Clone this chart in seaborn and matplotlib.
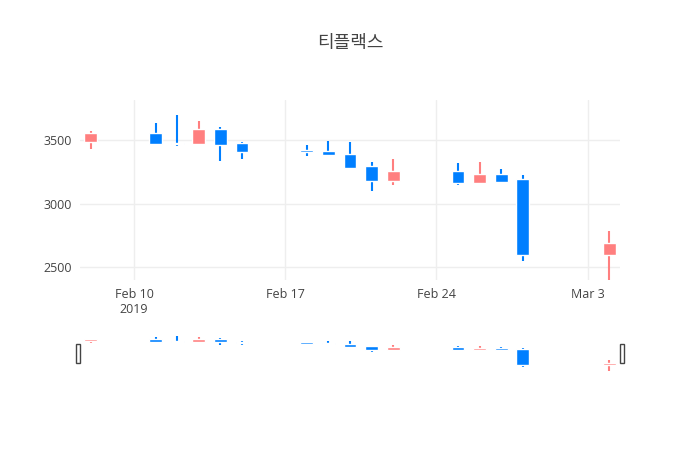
import pandas as pd
import numpy as np
import matplotlib
matplotlib.use('Agg')
import matplotlib.pyplot as plt
import matplotlib.dates as mdates
import seaborn as sns

dates = ['2019-02-08', '2019-02-11', '2019-02-12', '2019-02-13', '2019-02-14', '2019-02-15',
         '2019-02-18', '2019-02-19', '2019-02-20', '2019-02-21', '2019-02-22',
         '2019-02-25', '2019-02-26', '2019-02-27', '2019-02-28', '2019-03-04']
opens = [3480, 3555, 3475, 3465, 3585, 3475, 3420, 3415, 3390, 3295, 3180, 3255, 3160, 3230, 3190, 2595]
highs = [3565, 3630, 3690, 3650, 3600, 3480, 3455, 3490, 3480, 3325, 3345, 3315, 3325, 3270, 3225, 2785]
lows = [3425, 3460, 3450, 3465, 3330, 3345, 3370, 3370, 3270, 3100, 3145, 3145, 3160, 3160, 2550, 2400]
closes = [3555, 3465, 3465, 3585, 3455, 3405, 3400, 3380, 3275, 3180, 3255, 3160, 3230, 3170, 2595, 2690]

df = pd.DataFrame({'date': pd.to_datetime(dates), 'open': opens, 'high': highs,
                   'low': lows, 'close': closes})
df['x'] = mdates.date2num(df['date'])
df['color'] = np.where(df['close'] > df['open'], '#FF7F7F', '#007FFF')

sns.set_theme(style='white')
plt.rcParams['font.family'] = ['Open Sans', 'Noto Sans CJK KR', 'DejaVu Sans']

fig = plt.figure(figsize=(7, 4.5), dpi=100)
ax = fig.add_axes([80/700, 1-280/450, 540/700, 180/450])
sl = fig.add_axes([80/700, 1-372/450, 540/700, 42/450])

xmin = mdates.date2num(pd.Timestamp('2019-02-07 12:00'))
xmax = mdates.date2num(pd.Timestamp('2019-03-04 12:00'))


def candles(a, lw, minh):
    for _, r in df.iterrows():
        a.vlines(r['x'], r['low'], r['high'], color=r['color'], lw=lw, zorder=3)
        a.bar(r['x'], max(abs(r['close'] - r['open']), minh), bottom=min(r['open'], r['close']),
              width=0.6, color=r['color'], zorder=3)


candles(ax, 1.5, 8)
ax.set_xlim(xmin, xmax)
ax.set_ylim(2401, 3811)
ax.set_yticks([2500, 3000, 3500])
ax.grid(True, color='#eeeeee', lw=1)
ax.set_axisbelow(True)
for s in ax.spines.values():
    s.set_visible(False)
ticks = pd.to_datetime(['2019-02-10', '2019-02-17', '2019-02-24', '2019-03-03'])
ax.set_xticks(mdates.date2num(ticks))
ax.set_xticklabels(['Feb 10\n2019', 'Feb 17', 'Feb 24', 'Mar 3'])
ax.tick_params(axis='both', labelsize=9, colors='#444444', length=0, pad=6)

candles(sl, 1.5, 40)
sl.set_xlim(xmin, xmax)
sl.set_ylim(2350, 3900)
sl.set_xticks([])
sl.set_yticks([])
for s in sl.spines.values():
    s.set_visible(False)
for hx in [xmin - 0.1, xmax + 0.1]:
    sl.add_patch(plt.Rectangle((hx - 0.08, 2700), 0.16, 700, facecolor='white',
                               edgecolor='#444444', lw=1, zorder=5, clip_on=False))

fig.suptitle('티플랙스', y=1-43/450, fontsize=13, color='#444444', va='center')
fig.savefig('out.png', dpi=100)
